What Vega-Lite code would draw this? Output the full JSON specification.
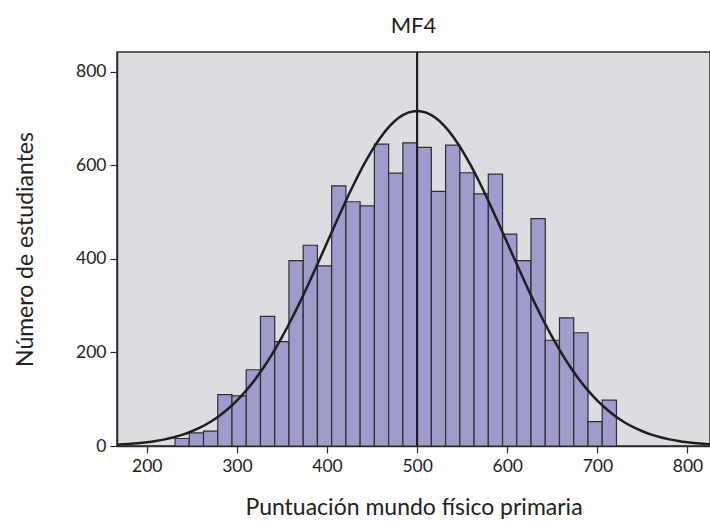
{
  "$schema": "https://vega.github.io/schema/vega-lite/v6.json",
  "autosize": {"type": "none"},
  "width": 593,
  "height": 394,
  "padding": {"left": 117, "top": 52, "right": 0, "bottom": 76},
  "background": "white",
  "title": {"text": "MF4", "fontSize": 22, "font": "Lato", "fontWeight": "normal", "color": "#222", "offset": 13, "anchor": "middle"},
  "config": {
    "view": {"fill": "#dcdde0", "stroke": "#2a2a2a", "strokeWidth": 1.5},
    "axis": {"labelFont": "Lato", "titleFont": "Lato", "labelFontSize": 17.5, "titleFontSize": 23, "titleFontWeight": "normal", "labelColor": "#222", "titleColor": "#222", "tickColor": "#2a2a2a", "domainColor": "#2a2a2a", "grid": false, "tickSize": 7, "domainWidth": 1.5, "tickWidth": 1.2}
  },
  "datasets": {
    "bars": [
      {"start": 231.4, "end": 247.2, "count": 16},
      {"start": 247.2, "end": 263.0, "count": 28},
      {"start": 263.0, "end": 278.8, "count": 32},
      {"start": 278.8, "end": 294.6, "count": 110},
      {"start": 294.6, "end": 310.4, "count": 107},
      {"start": 310.4, "end": 326.2, "count": 163},
      {"start": 326.2, "end": 342.0, "count": 277},
      {"start": 342.0, "end": 357.8, "count": 223},
      {"start": 357.8, "end": 373.6, "count": 396},
      {"start": 373.6, "end": 389.4, "count": 429},
      {"start": 389.4, "end": 405.2, "count": 385},
      {"start": 405.2, "end": 421.0, "count": 556},
      {"start": 421.0, "end": 436.8, "count": 522},
      {"start": 436.8, "end": 452.6, "count": 513},
      {"start": 452.6, "end": 468.4, "count": 645},
      {"start": 468.4, "end": 484.2, "count": 583},
      {"start": 484.2, "end": 500.0, "count": 648},
      {"start": 500.0, "end": 515.8, "count": 638},
      {"start": 515.8, "end": 531.6, "count": 544},
      {"start": 531.6, "end": 547.4, "count": 643},
      {"start": 547.4, "end": 563.2, "count": 584},
      {"start": 563.2, "end": 579.0, "count": 539},
      {"start": 579.0, "end": 594.8, "count": 581},
      {"start": 594.8, "end": 610.6, "count": 453},
      {"start": 610.6, "end": 626.4, "count": 396},
      {"start": 626.4, "end": 642.2, "count": 486},
      {"start": 642.2, "end": 658.0, "count": 226},
      {"start": 658.0, "end": 673.8, "count": 274},
      {"start": 673.8, "end": 689.6, "count": 242},
      {"start": 689.6, "end": 705.4, "count": 52},
      {"start": 705.4, "end": 721.2, "count": 98}
    ],
    "curve": [
      {"x": 167, "y": 2.9},
      {"x": 170, "y": 3.09},
      {"x": 180, "y": 4.28},
      {"x": 190, "y": 5.86},
      {"x": 200, "y": 7.95},
      {"x": 210, "y": 10.68},
      {"x": 220, "y": 14.21},
      {"x": 230, "y": 18.70},
      {"x": 240, "y": 24.38},
      {"x": 250, "y": 31.46},
      {"x": 260, "y": 40.19},
      {"x": 270, "y": 50.84},
      {"x": 280, "y": 63.67},
      {"x": 290, "y": 78.94},
      {"x": 300, "y": 96.90},
      {"x": 310, "y": 117.76},
      {"x": 320, "y": 141.70},
      {"x": 330, "y": 168.79},
      {"x": 340, "y": 199.07},
      {"x": 350, "y": 232.45},
      {"x": 360, "y": 268.72},
      {"x": 370, "y": 307.56},
      {"x": 380, "y": 348.51},
      {"x": 390, "y": 390.99},
      {"x": 400, "y": 434.28},
      {"x": 410, "y": 477.55},
      {"x": 420, "y": 519.92},
      {"x": 430, "y": 560.42},
      {"x": 440, "y": 598.05},
      {"x": 450, "y": 631.87},
      {"x": 460, "y": 660.95},
      {"x": 470, "y": 684.49},
      {"x": 480, "y": 701.82},
      {"x": 490, "y": 712.43},
      {"x": 500, "y": 716},
      {"x": 510, "y": 712.43},
      {"x": 520, "y": 701.82},
      {"x": 530, "y": 684.49},
      {"x": 540, "y": 660.95},
      {"x": 550, "y": 631.87},
      {"x": 560, "y": 598.05},
      {"x": 570, "y": 560.42},
      {"x": 580, "y": 519.92},
      {"x": 590, "y": 477.55},
      {"x": 600, "y": 434.28},
      {"x": 610, "y": 390.99},
      {"x": 620, "y": 348.51},
      {"x": 630, "y": 307.56},
      {"x": 640, "y": 268.72},
      {"x": 650, "y": 232.45},
      {"x": 660, "y": 199.07},
      {"x": 670, "y": 168.79},
      {"x": 680, "y": 141.70},
      {"x": 690, "y": 117.76},
      {"x": 700, "y": 96.90},
      {"x": 710, "y": 78.94},
      {"x": 720, "y": 63.67},
      {"x": 730, "y": 50.84},
      {"x": 740, "y": 40.19},
      {"x": 750, "y": 31.46},
      {"x": 760, "y": 24.38},
      {"x": 770, "y": 18.70},
      {"x": 780, "y": 14.21},
      {"x": 790, "y": 10.68},
      {"x": 800, "y": 7.95},
      {"x": 810, "y": 5.86},
      {"x": 820, "y": 4.28},
      {"x": 825, "y": 3.6}
    ],
    "mean": [{"x": 500}]
  },
  "layer": [
    {
      "data": {"name": "bars"},
      "mark": {"type": "bar", "fill": "#a09bcd", "stroke": "#2e2e2e", "strokeWidth": 1.2, "clip": true},
      "encoding": {
        "x": {"field": "start", "type": "quantitative", "scale": {"domain": [167, 825], "nice": false, "zero": false}, "axis": {"values": [200, 300, 400, 500, 600, 700, 800], "title": "Puntuación mundo físico primaria", "titlePadding": 22, "labelPadding": 4}},
        "x2": {"field": "end"},
        "y": {"field": "count", "type": "quantitative", "scale": {"domain": [0, 842], "nice": false}, "axis": {"values": [0, 200, 400, 600, 800], "title": "Número de estudiantes", "titlePadding": 38, "labelPadding": 4}},
        "y2": {"datum": 0}
      }
    },
    {
      "data": {"name": "curve"},
      "mark": {"type": "line", "color": "#1e1e1e", "strokeWidth": 2.5, "interpolate": "monotone", "clip": true},
      "encoding": {
        "x": {"field": "x", "type": "quantitative"},
        "y": {"field": "y", "type": "quantitative"}
      }
    },
    {
      "data": {"name": "mean"},
      "mark": {"type": "rule", "color": "#1e1e1e", "strokeWidth": 2.2},
      "encoding": {
        "x": {"field": "x", "type": "quantitative"}
      }
    }
  ]
}
